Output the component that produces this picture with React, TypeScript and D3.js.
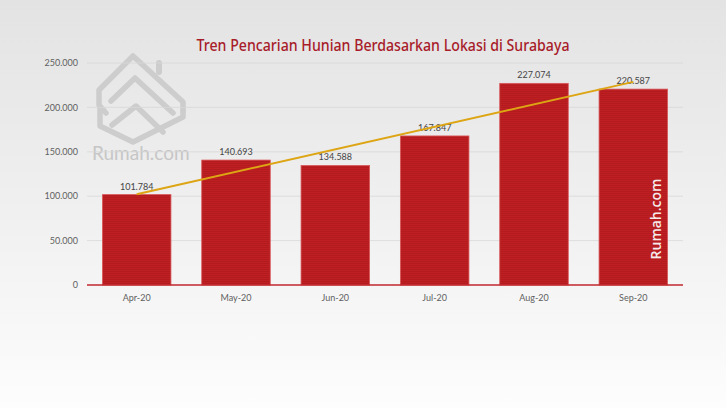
import * as d3 from "d3";

const W = 726;
const H = 408;
const MARGIN = { top: 63, right: 43, bottom: 123, left: 87 };

const months = ["Apr-20", "May-20", "Jun-20", "Jul-20", "Aug-20", "Sep-20"];
const searches = [101784, 140693, 134588, 167847, 227074, 220587];
const yTicks = [0, 50000, 100000, 150000, 200000, 250000];

const TITLE = "Tren Pencarian Hunian Berdasarkan Lokasi di Surabaya";
const BAR_RED = "#bd1f22";
const FONT = "Lato, 'Open Sans', sans-serif";

const fmt = (v: number) => d3.format(",")(v).replace(/,/g, ".");

export default function App() {
  const boundsWidth = W - MARGIN.left - MARGIN.right;
  const boundsHeight = H - MARGIN.top - MARGIN.bottom;

  const xScale = d3
    .scaleBand()
    .domain(months)
    .range([0, boundsWidth])
    .paddingInner(0.31)
    .paddingOuter(0.155);
  const yScale = d3.scaleLinear().domain([0, 250000]).range([boundsHeight, 0]);

  // linear trendline (least squares over the series)
  const idx = searches.map((_, i) => i);
  const mx = d3.mean(idx) as number;
  const my = d3.mean(searches) as number;
  const slope =
    d3.sum(idx, (i) => (i - mx) * (searches[i] - my)) / d3.sum(idx, (i) => (i - mx) ** 2);
  const trend = (i: number) => my + slope * (i - mx);
  const cx = (m: string) => (xScale(m) || 0) + xScale.bandwidth() / 2;
  const trendLine = d3
    .line<number>()
    .x((i) => cx(months[i]))
    .y((i) => yScale(trend(i)));

  return (
    <svg
      width={W}
      height={H}
      style={{ position: "absolute", left: 0, top: 0, display: "block" }}
    >
      <defs>
        <linearGradient id="bg" x1="0" y1="0" x2="0" y2="1">
          <stop offset="0%" stopColor="#e3e3e3" />
          <stop offset="60%" stopColor="#f2f2f2" />
          <stop offset="100%" stopColor="#fdfdfd" />
        </linearGradient>
        <pattern id="stripes" width="4" height="2" patternUnits="userSpaceOnUse">
          <rect width="4" height="2" fill={BAR_RED} />
          <rect width="4" height="0.8" fill="#b11a1e" />
        </pattern>
      </defs>
      <rect width={W} height={H} fill="url(#bg)" />

      {/* watermark logo */}
      <g
        fill="none"
        stroke="#cdcdcd"
        strokeWidth={5.5}
        strokeLinejoin="round"
        strokeLinecap="round"
      >
        <path d="M 106,113 L 99,105 L 99,90 L 133,56 L 183,102 L 183,111" />
        <path d="M 159,72 L 159,63" strokeWidth={6} />
        <path d="M 111,101 L 135,78 L 173,113" />
        <path d="M 100,109 L 100,126 L 133,142 L 183,117 L 183,111" />
        <path d="M 112,125 L 136,106 L 163,132" />
      </g>
      <text x={92} y={160} fontFamily={FONT} fontSize={19} fill="#c6c6c6">
        Rumah.com
      </text>

      <text
        x={383}
        y={51}
        textAnchor="middle"
        fontFamily="'Noto Sans', sans-serif"
        fontWeight={500}
        fontSize={16}
        fill="#a81c2a"
        textLength={373}
        lengthAdjust="spacingAndGlyphs"
      >
        {TITLE}
      </text>

      <g transform={`translate(${MARGIN.left},${MARGIN.top})`}>
        {yTicks.map((t) => (
          <g key={t}>
            {t > 0 && (
              <line
                x1={0}
                x2={boundsWidth}
                y1={yScale(t)}
                y2={yScale(t)}
                stroke="#d8d8d8"
                strokeWidth={0.8}
              />
            )}
            <text
              x={-9}
              y={yScale(t)}
              dy="0.35em"
              textAnchor="end"
              fontFamily={FONT}
              fontSize={9}
              fill="#5f5f5f"
            >
              {fmt(t)}
            </text>
          </g>
        ))}

        {months.map((m, i) => {
          const x = xScale(m) || 0;
          const v = searches[i];
          return (
            <g key={m}>
              <rect
                x={x}
                y={yScale(v)}
                width={xScale.bandwidth()}
                height={yScale(0) - yScale(v)}
                fill="url(#stripes)"
                stroke="#d8585a"
                strokeWidth={0.8}
              />
              <text
                x={cx(m)}
                y={yScale(v) - 5}
                textAnchor="middle"
                fontFamily={FONT}
                fontSize={9}
                fill="#444"
              >
                {fmt(v)}
              </text>
              <text
                x={cx(m)}
                y={boundsHeight + 13}
                dy="0.35em"
                textAnchor="middle"
                fontFamily={FONT}
                fontSize={9}
                fill="#5f5f5f"
              >
                {m}
              </text>
            </g>
          );
        })}

        <line
          x1={0}
          x2={boundsWidth}
          y1={boundsHeight}
          y2={boundsHeight}
          stroke="#c0272d"
          strokeWidth={1.5}
        />

        <path
          d={trendLine([0, months.length - 1]) || ""}
          fill="none"
          stroke="#dda514"
          strokeWidth={2}
        />
      </g>

      <text
        transform="translate(661,219) rotate(-90)"
        textAnchor="middle"
        fontFamily="'Open Sans', sans-serif"
        fontWeight={600}
        fontSize={14}
        fill="#f6eaea"
      >
        Rumah.com
      </text>
    </svg>
  );
}
